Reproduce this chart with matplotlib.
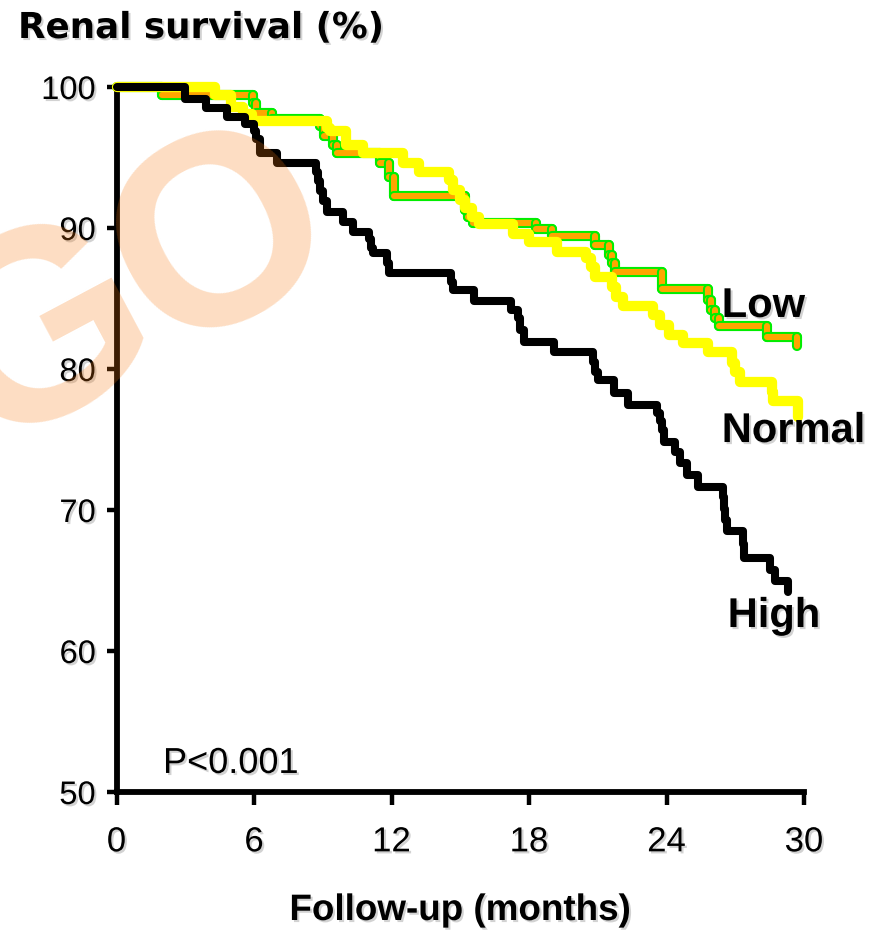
import matplotlib
matplotlib.use("Agg")
import matplotlib.pyplot as plt
import matplotlib.patheffects as pe

# Kaplan-Meier steps: follow-up time (months) and renal survival (%) after each step
high_t = [0, 3.0, 3.9, 4.8, 5.6, 6.0, 6.1, 6.25, 7.0, 8.7, 8.8, 8.9, 9.0, 9.2, 9.9,
          10.3, 11.0, 11.1, 11.2, 11.8, 11.9, 14.6, 14.7, 15.6, 17.2, 17.5, 17.6, 17.8,
          19.1, 20.8, 20.9, 21.0, 21.7, 22.3, 23.6, 23.7, 23.8, 23.9, 24.36, 24.6, 24.9,
          25.36, 26.45, 26.5, 26.55, 26.63, 27.32, 27.37, 28.5, 28.72, 29.28]
high_s = [100, 99.15, 98.5, 97.9, 97.4, 96.9, 96.3, 95.3, 94.6, 94.0, 93.3, 92.6, 91.9,
          91.1, 90.45, 89.7, 89.2, 88.6, 88.2, 87.5, 86.8, 86.2, 85.6, 84.8, 84.2, 83.6,
          82.8, 81.9, 81.2, 80.5, 79.8, 79.2, 78.3, 77.45, 76.9, 76.3, 75.7, 74.85, 74.1,
          73.3, 72.5, 71.65, 70.9, 70.1, 69.3, 68.5, 67.6, 66.6, 65.75, 65.0, 64.2]

normal_t = [0, 4.3, 5.0, 5.5, 5.9, 9.2, 9.3, 10.0, 10.75, 12.5, 13.2, 14.5, 14.7, 15.0,
            15.2, 15.5, 15.8, 17.3, 18.0, 19.2, 20.5, 20.7, 20.9, 21.6, 21.8, 22.1, 23.4,
            23.7, 24.1, 24.7, 25.8, 26.85, 27.0, 27.2, 28.6, 28.65, 29.75]
normal_s = [100, 99.4, 98.6, 98.1, 97.6, 97.1, 96.9, 95.9, 95.3, 94.6, 94.0, 93.4, 92.7,
            92.0, 91.4, 90.8, 90.3, 89.6, 89.0, 88.3, 87.9, 87.2, 86.5, 85.8, 85.1, 84.5,
            83.8, 83.1, 82.4, 81.85, 81.2, 80.4, 79.8, 79.1, 78.4, 77.7, 76.6]

low_t = [0, 2.0, 5.95, 6.1, 6.8, 8.9, 9.05, 9.45, 9.6, 11.5, 11.9, 12.1, 15.2, 15.35,
         15.55, 18.3, 19.0, 20.9, 21.5, 21.6, 21.75, 23.8, 25.8, 25.95, 26.1, 26.3,
         28.4, 29.7]
low_s = [100, 99.4, 98.9, 98.15, 97.7, 97.2, 96.5, 95.9, 95.3, 94.6, 93.6, 92.3, 91.3,
         90.8, 90.35, 89.95, 89.4, 88.8, 88.1, 87.5, 86.9, 85.7, 84.9, 84.2, 83.6, 83.05,
         82.3, 81.6]

x_ticks = [0, 6, 12, 18, 24, 30]
y_ticks = [50, 60, 70, 80, 90, 100]

SANS = ["Liberation Sans", "DejaVu Sans"]
shadow = [pe.withSimplePatchShadow(offset=(1.5, -1.5), shadow_rgbFace="#7f7f7f", alpha=0.35)]

fig = plt.figure(figsize=(8.75, 9.3), dpi=100)
ax = fig.add_axes([116.5 / 875, 1 - 792 / 930, (804 - 116.5) / 875, (792 - 87) / 930])

# Low group: orange line with a green rim, each step segment drawn on its own
xs, ys = [low_t[0]], [low_s[0]]
for i in range(1, len(low_t)):
    xs += [low_t[i], low_t[i]]
    ys += [low_s[i - 1], low_s[i]]
for k in range(len(xs) - 1):
    ax.plot(xs[k:k + 2], ys[k:k + 2], color="#FFA500", lw=4.4, solid_capstyle="round",
            path_effects=[pe.Stroke(linewidth=7.3, foreground="#00EE00"), pe.Normal()],
            zorder=2, clip_on=False)

ax.step(normal_t, normal_s, where="post", color="#FFFF00", lw=7.4,
        solid_capstyle="round", solid_joinstyle="round", zorder=3, clip_on=False)
ax.step(high_t, high_s, where="post", color="black", lw=5.8,
        solid_capstyle="round", solid_joinstyle="round", zorder=4, clip_on=False)

ax.set_xlim(0, 30)
ax.set_ylim(50, 100)
ax.set_xticks(x_ticks)
ax.set_yticks(y_ticks)
for side in ("top", "right"):
    ax.spines[side].set_visible(False)
for side in ("left", "bottom"):
    ax.spines[side].set_linewidth(4.2)
    ax.spines[side].set_capstyle("projecting")
ax.tick_params(axis="y", direction="out", length=7, width=3.2, pad=8)
ax.tick_params(axis="x", direction="out", length=9, width=3.2, pad=15)
for lab in ax.get_xticklabels():
    lab.set_family(SANS)
    lab.set_fontsize(25)
    lab.set_path_effects(shadow)
for lab in ax.get_yticklabels():
    lab.set_family(SANS)
    lab.set_fontsize(23.5)
    lab.set_path_effects(shadow)

ax.text(2.03, 51.35, "P<0.001", family=SANS, fontsize=26, va="baseline", ha="left",
        path_effects=shadow)
ax.text(26.41, 83.69, "Low", family=SANS, fontsize=30, fontweight="bold",
        va="baseline", ha="left", clip_on=False, path_effects=shadow, zorder=6)
ax.text(26.41, 74.82, "Normal", family=SANS, fontsize=30, fontweight="bold",
        va="baseline", ha="left", clip_on=False, path_effects=shadow, zorder=6)
ax.text(26.67, 61.7, "High", family=SANS, fontsize=30, fontweight="bold",
        va="baseline", ha="left", clip_on=False, path_effects=shadow, zorder=6)

fig.text(18 / 875, 1 - 38 / 930, "Renal survival (%)", family=["DejaVu Sans"],
         fontsize=25.7, fontweight="bold", ha="left", va="baseline", path_effects=shadow)
fig.text(460 / 875, 1 - 920 / 930, "Follow-up (months)", family=SANS, fontsize=26.5,
         fontweight="bold", ha="center", va="baseline", path_effects=shadow)

# Watermark lettering laid over the plot, one glyph at a time
wm = dict(family=SANS, fontsize=196, fontweight="bold", color="#F7780E", alpha=0.25,
          rotation=28, rotation_mode="anchor", ha="center", va="baseline", zorder=10)
fig.text(77.7 / 875, 1 - 400.7 / 930, "G", **wm)
fig.text(257.0 / 875, 1 - 305.5 / 930, "O", **wm)

fig.savefig("out.png", dpi=100)
